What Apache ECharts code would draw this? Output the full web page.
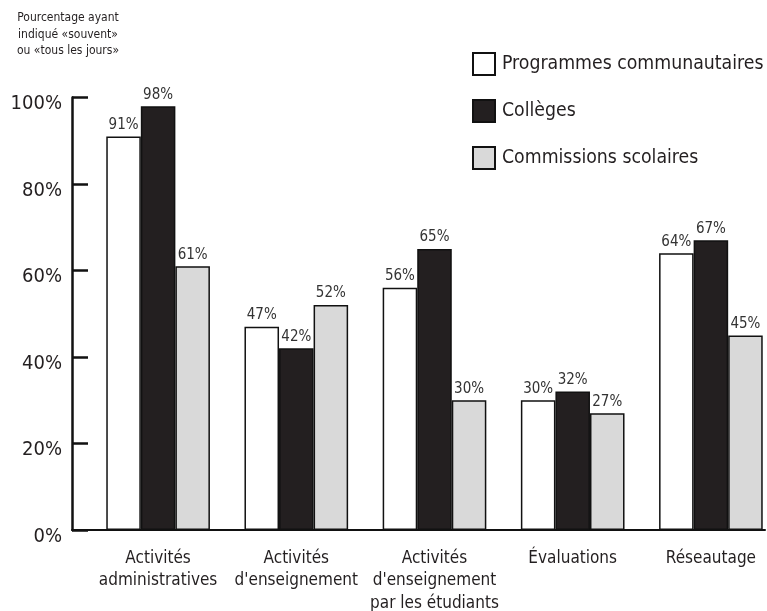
<!DOCTYPE html>
<html><head><meta charset="utf-8">
<script src="https://cdn.jsdelivr.net/npm/echarts@6/dist/echarts.min.js"></script>
<style>html,body{margin:0;padding:0;background:#fff}#c{width:767px;height:611px}</style>
</head><body><div id="c"></div>
<script>
const categories = ['Activités\nadministratives', 'Activités\nd\'enseignement', 'Activités\nd\'enseignement\npar les étudiants', 'Évaluations', 'Réseautage'];
const seriesNames = ['Programmes communautaires', 'Collèges', 'Commissions scolaires'];
const programmes = [91, 47, 56, 30, 64];
const colleges = [98, 42, 65, 32, 67];
const commissions = [61, 52, 30, 27, 45];
const yTickValues = [0, 20, 40, 60, 80, 100];
const noteText = 'Pourcentage ayant\nindiqué «souvent»\nou «tous les jours»';

const FONT = '"Liberation Sans Narrow", "DejaVu Sans Condensed", sans-serif';
const TXT = '#231f20';
const colors = ['#ffffff', '#231f20', '#d9d9d9'];
const values = [programmes, colleges, commissions];

const chart = echarts.init(document.getElementById('c'), null, {renderer: 'canvas'});
const option = {
  animation: false,
  backgroundColor: '#ffffff',
  graphic: [{
    type: 'text', x: 68, y: 10,
    style: {text: noteText, align: 'center', verticalAlign: 'top', fontFamily: FONT, fontSize: 12, lineHeight: 16.5, fill: TXT}
  }],
  legend: {
    data: seriesNames, orient: 'vertical', left: 472, top: 52, padding: 0,
    itemWidth: 22, itemHeight: 22, itemGap: 23, icon: 'rect',
    textStyle: {fontFamily: FONT, fontSize: 19.3, lineHeight: 22, color: TXT, padding: [0, 0, 0, 2]}
  },
  grid: [
    {left: 89, width: 691, top: 97.5, bottom: 81, outerBoundsMode: 'none', containLabel: false},
    {left: 72, width: 693, top: 97.5, bottom: 81, outerBoundsMode: 'none', containLabel: false}
  ],
  xAxis: [
    {type: 'category', gridIndex: 0, data: categories,
     axisLine: {show: false}, axisTick: {show: false},
     axisLabel: {interval: 0, margin: 17, fontFamily: FONT, fontSize: 17, lineHeight: 22.5, color: TXT}},
    {type: 'value', gridIndex: 1, min: 0, max: 1,
     axisLine: {show: true, onZero: false, lineStyle: {color: '#111', width: 2}},
     axisTick: {show: false}, axisLabel: {show: false}, splitLine: {show: false}}
  ],
  yAxis: [
    {type: 'value', gridIndex: 0, min: 0, max: 100, show: false},
    {type: 'value', gridIndex: 1, min: yTickValues[0], max: yTickValues[yTickValues.length - 1], interval: 20,
     axisLine: {show: true, lineStyle: {color: '#111', width: 2.5}},
     axisTick: {show: true, inside: true, length: 16, lineStyle: {color: '#111', width: 2.5}},
     axisLabel: {formatter: '{value}%', fontFamily: FONT, fontSize: 20, margin: 10, verticalAlign: 'top', lineHeight: 13, color: TXT},
     splitLine: {show: false}}
  ],
  series: seriesNames.map((name, i) => ({
    name: name, type: 'bar', xAxisIndex: 0, yAxisIndex: 0,
    data: values[i], barWidth: '25%', barGap: '0%',
    itemStyle: {color: colors[i], borderColor: '#111', borderWidth: 1.5},
    label: {show: true, position: 'top', distance: 4, formatter: '{c}%', fontFamily: FONT, fontSize: 15, color: '#333'}
  }))
};
chart.setOption(option);
</script>
</body></html>
